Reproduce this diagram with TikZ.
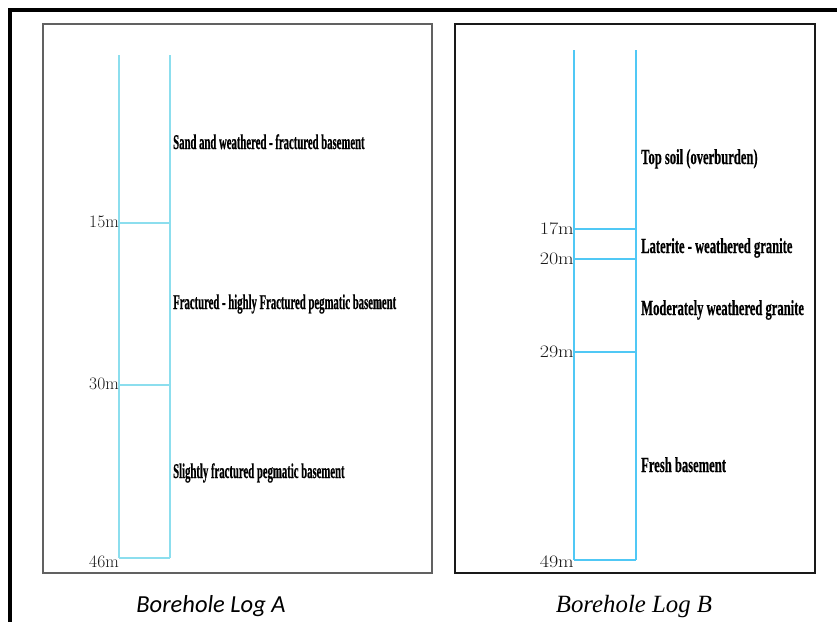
\documentclass[tikz,border=0pt]{standalone}
\usepackage{fontspec}
\newfontfamily\layerAfont[FakeStretch=0.51,FakeBold=0.5]{Liberation Serif Bold}
\newfontfamily\layerBfont[FakeStretch=0.586,FakeBold=0.5]{Liberation Serif Bold}
\newfontfamily\capAfont{Carlito}
\newfontfamily\capBfont{Liberation Serif}
\begin{document}
\begin{tikzpicture}[x=1pt,y=-1pt,
  frameline/.style={line width=3.5pt,black},
  panelA/.style={draw=black!62,line width=1.4pt},
  panelB/.style={draw=black!90,line width=1.4pt},
  holeA/.style={draw={rgb,255:red,140;green,222;blue,238},line width=1.8pt},
  holeB/.style={draw={rgb,255:red,80;green,200;blue,245},line width=1.8pt},
  depth/.style={anchor=east,inner sep=0pt,font=\fontsize{17.5}{18}\selectfont,text=black!90},
  layerA/.style={anchor=base west,inner sep=0pt,font=\layerAfont\fontsize{21}{21}\selectfont},
  layerB/.style={anchor=base west,inner sep=0pt,font=\layerBfont\fontsize{21.5}{22}\selectfont},
  caption/.style={anchor=base,inner sep=0pt}]
\useasboundingbox (0,0) rectangle (837,622);

% outer frame (top and left edges)
\draw[frameline] (837,10) -- (10,10) -- (10,622);

% panels
\draw[panelA] (43,24) rectangle (432,573);
\draw[panelB] (455,24) rectangle (815,573);

% ---------------- Borehole A ----------------
\coordinate (aTL) at (119,55);
\coordinate (aTR) at (170,55);
\coordinate (a15L) at (119,223);
\coordinate (a15R) at (170,223);
\coordinate (a30L) at (119,385);
\coordinate (a30R) at (170,385);
\coordinate (a46L) at (119,558);
\coordinate (a46R) at (170,558);
\draw[holeA] (aTL) -- (a46L);
\draw[holeA] (aTR) -- (a46R);
\draw[holeA] (a15L) -- (a15R);
\draw[holeA] (a30L) -- (a30R);
\draw[holeA,line width=2.6pt] (a46L) -- (a46R);

\node[depth] (d15) at ([yshift=1.5pt]a15L) {15m};
\node[depth] (d30) at ([yshift=1.5pt]a30L) {30m};
\node[depth] (d46) at ([yshift=-4pt]a46L) {46m};

\node[layerA] (la1) at (173,149) {Sand and weathered - fractured basement};
\node[layerA] (la2) at (173,309) {Fractured - highly Fractured pegmatic basement};
\node[layerA] (la3) at (173,478) {Slightly fractured pegmatic basement};

\node[caption,font=\capAfont\itshape\fontsize{24.5}{25}\selectfont] (capA) at (211,612) {Borehole Log A};

% ---------------- Borehole B ----------------
\coordinate (bTL) at (574,50);
\coordinate (bTR) at (636,50);
\coordinate (b17L) at (574,229);
\coordinate (b17R) at (636,229);
\coordinate (b20L) at (574,259);
\coordinate (b20R) at (636,259);
\coordinate (b29L) at (574,352);
\coordinate (b29R) at (636,352);
\coordinate (b49L) at (574,560);
\coordinate (b49R) at (636,560);
\draw[holeB] (bTL) -- (b49L);
\draw[holeB] (bTR) -- (b49R);
\draw[holeB] (b17L) -- (b17R);
\draw[holeB] (b20L) -- (b20R);
\draw[holeB] (b29L) -- (b29R);
\draw[holeB,line width=2.6pt] (b49L) -- (b49R);

\node[depth,xscale=1.15] (d17) at (b17L) {17m};
\node[depth,xscale=1.15] (d20) at (b20L) {20m};
\node[depth,xscale=1.15] (d29) at (b29L) {29m};
\node[depth,xscale=1.15] (d49) at ([yshift=-2pt]b49L) {49m};

\node[layerB] (lb1) at (641,164) {Top soil (overburden)};
\node[layerB] (lb2) at (641,253) {Laterite - weathered granite};
\node[layerB] (lb3) at (641,315) {Moderately weathered granite};
\node[layerB] (lb4) at (641,472) {Fresh basement};

\node[caption,font=\capBfont\itshape\fontsize{24.8}{25}\selectfont] (capB) at (634,612) {Borehole Log B};
\end{tikzpicture}
\end{document}
